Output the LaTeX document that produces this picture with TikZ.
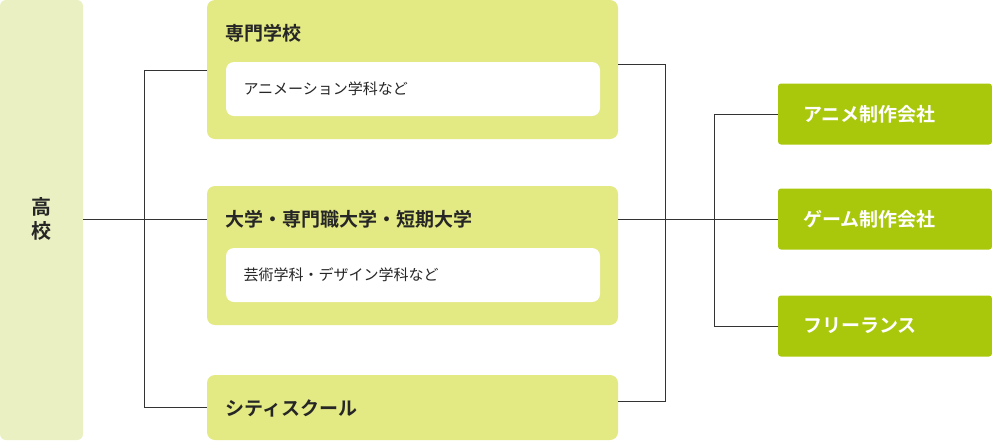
\documentclass[tikz,border=0pt]{standalone}
\usepackage{fontspec}
\setmainfont{Noto Sans CJK JP}
\newfontfamily\jpbold{Noto Sans CJK JP Bold}
\definecolor{paleGreen}{HTML}{EAF0C2}
\definecolor{schoolGreen}{HTML}{E3E983}
\definecolor{jobGreen}{HTML}{A9C80C}
\definecolor{lineGray}{HTML}{333333}
\begin{document}
\begin{tikzpicture}[x=1pt,y=-1pt,
	school/.style={fill=schoolGreen,rounded corners=8pt},
	course/.style={fill=white,rounded corners=8pt},
	job/.style={fill=jobGreen,rounded corners=3pt,minimum width=214pt,minimum height=61pt,
		text=white,font=\jpbold\fontsize{19}{22}\selectfont,text width=164pt,align=left,inner sep=0pt},
	title/.style={anchor=west,font=\jpbold\fontsize{19}{22}\selectfont,text=black!85},
	note/.style={anchor=west,font=\fontsize{15}{18}\selectfont,text=black!85},
	link/.style={draw=lineGray,line width=0.9pt}]
	\useasboundingbox (0,0) rectangle (992,440);

	% high school
	\fill[paleGreen,rounded corners=6pt] (0,0) rectangle (83,440);
	\node[font=\jpbold\fontsize{20}{24}\selectfont,align=center,text=black!85] (high) at (41.5,219) {高\\校};
	\coordinate (highR) at (83,219);

	% schools
	\fill[school] (207,0) rectangle (618,139);
	\fill[course] (226,62) rectangle (600,116);
	\node[title] (sen) at (222,33) {専門学校};
	\node[note] (senC) at (240,89) {アニメーション学科など};

	\fill[school] (207,186) rectangle (618,325);
	\fill[course] (226,248) rectangle (600,302);
	\node[title] (dai) at (222,219) {大学・専門職大学・短期大学};
	\node[note] (daiC) at (240,275) {芸術学科・デザイン学科など};

	\fill[school] (207,375) rectangle (618,440);
	\node[title] (cul) at (222,408) {シティスクール};

	% jobs
	\node[job] (anime) at (885,114) {アニメ制作会社};
	\node[job] (game) at (885,219) {ゲーム制作会社};
	\node[job] (free) at (885,326) {フリーランス};

	% connectors
	\draw[link] (highR) -- (207,219);
	\draw[link] (207,70) -- (144,70) -- (144,407) -- (207,407);
	\draw[link] (618,64) -- (665,64) -- (665,401) -- (618,401);
	\draw[link] (618,219) -- (714,219);
	\draw[link] (anime.west) -- (714,114) -- (714,326) -- (free.west);
	\draw[link] (714,219) -- (game.west);
\end{tikzpicture}
\end{document}
